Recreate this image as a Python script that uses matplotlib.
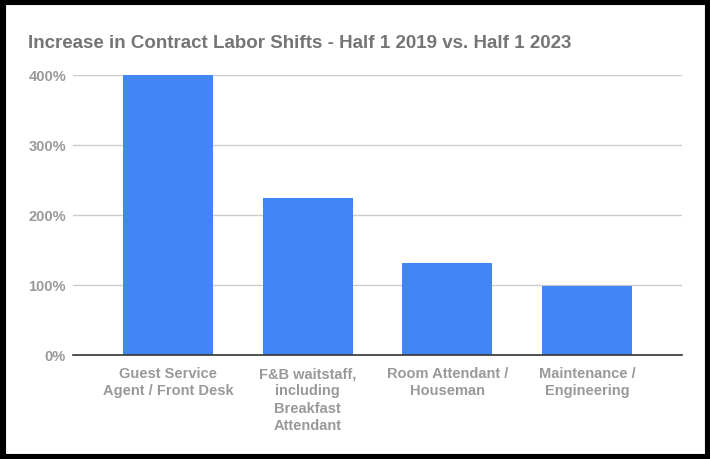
import matplotlib
matplotlib.use("Agg")
import matplotlib.pyplot as plt
from matplotlib.patches import Rectangle
from matplotlib.ticker import FuncFormatter

categories = ["Guest Service\nAgent / Front Desk",
              "F&B waitstaff,\nincluding\nBreakfast\nAttendant",
              "Room Attendant /\nHouseman",
              "Maintenance /\nEngineering"]
values = [400, 224, 131, 99]
yticks = [0, 100, 200, 300, 400]
title = "Increase in Contract Labor Shifts - Half 1 2019 vs. Half 1 2023"

W, H = 710, 460
fig = plt.figure(figsize=(W / 100, H / 100), dpi=100)
fig.patch.set_facecolor("white")

ax = fig.add_axes([73 / W, 1 - 356 / H, (682 - 73) / W, (356 - 76) / H])
x = list(range(len(categories)))
ax.bar(x, values, width=0.645, color="#4285F4", zorder=3)
ax.set_xlim(-0.68, 3.68)
ax.set_ylim(0, 400)
ax.set_yticks(yticks)
ax.yaxis.set_major_formatter(FuncFormatter(lambda v, p: f"{int(v)}%"))
ax.grid(axis="y", color="#cccccc", linewidth=1, zorder=0)
for s in ["top", "right", "left"]:
    ax.spines[s].set_visible(False)
ax.spines["bottom"].set_color("#333333")
ax.spines["bottom"].set_linewidth(1.2)
ax.spines["bottom"].set_zorder(4)
ax.tick_params(axis="both", length=0, colors="#999999")
ax.tick_params(axis="y", pad=5)
ax.tick_params(axis="x", pad=8)
ax.set_xticks(x)
ax.set_xticklabels(categories, fontsize=10.5, fontweight="bold", color="#999999",
                   family="Liberation Sans", linespacing=1.3, va="top")
for lab in ax.get_yticklabels():
    lab.set_fontsize(10.5)
    lab.set_fontweight("bold")
    lab.set_family("Liberation Sans")
    lab.set_color("#999999")

fig.text(28 / W, 1 - 43 / H, title, fontsize=13.5, fontweight="bold", color="#757575",
         family="Liberation Sans", va="center", ha="left")

fig.add_artist(Rectangle((0, 0), 1, 1, transform=fig.transFigure, fill=False,
                         edgecolor="black", linewidth=8))

fig.savefig("out.png", dpi=100, facecolor="white")
